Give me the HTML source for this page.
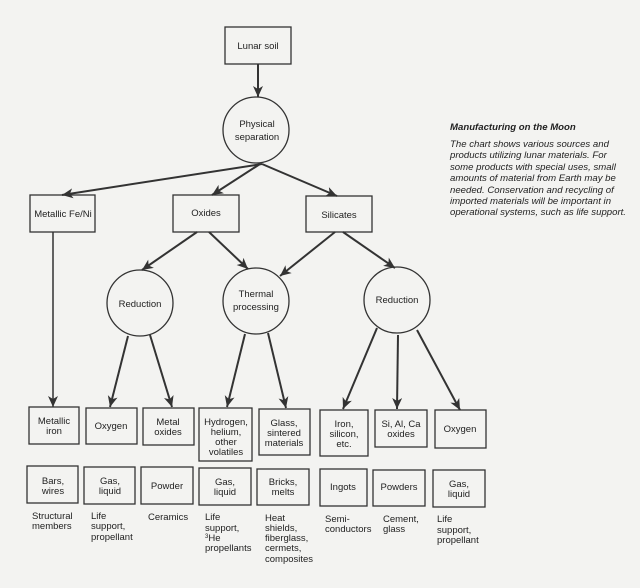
<!DOCTYPE html>
<html><head><meta charset="utf-8"><style>
html,body{margin:0;padding:0;background:#f3f3f1;}
svg{display:block}
text{font-family:"Liberation Sans",sans-serif;font-size:9.5px;fill:#222;}
.c{text-anchor:middle}
.i{font-style:italic;font-size:9.6px}
</style></head><body>
<svg width="640" height="588" viewBox="0 0 640 588" xmlns="http://www.w3.org/2000/svg">
<defs><marker id="a" markerWidth="8" markerHeight="8" refX="7" refY="4" orient="auto" markerUnits="userSpaceOnUse"><path d="M0,0 L8,4 L0,8 L2,4 z" fill="#333"/></marker>
<marker id="b" markerWidth="12" markerHeight="12" refX="11" refY="5" orient="auto" markerUnits="userSpaceOnUse"><path d="M0,0 L11,5 L0,10 L3,5 z" fill="#333"/></marker></defs>
<g fill="none" stroke="#333" stroke-width="1.3">
<rect x="225" y="27" width="66" height="37"/>
<circle cx="256" cy="130" r="33"/>
<rect x="30" y="195" width="65" height="37"/>
<rect x="173" y="195" width="66" height="37"/>
<rect x="306" y="196" width="66" height="36"/>
<circle cx="140" cy="303" r="33"/>
<circle cx="256" cy="301" r="33"/>
<circle cx="397" cy="300" r="33"/>
<rect x="29" y="407" width="50" height="37"/>
<rect x="86" y="408" width="51" height="36"/>
<rect x="143" y="408" width="51" height="37"/>
<rect x="199" y="408" width="53" height="53"/>
<rect x="259" y="409" width="51" height="46"/>
<rect x="320" y="410" width="48" height="46"/>
<rect x="375" y="410" width="52" height="37"/>
<rect x="435" y="410" width="51" height="38"/>
<rect x="27" y="466" width="51" height="37"/>
<rect x="84" y="467" width="51" height="37"/>
<rect x="141" y="467" width="52" height="37"/>
<rect x="199" y="468" width="52" height="37"/>
<rect x="257" y="469" width="52" height="36"/>
<rect x="320" y="469" width="47" height="37"/>
<rect x="373" y="470" width="52" height="36"/>
<rect x="433" y="470" width="52" height="37"/>
</g>
<g stroke="#333" stroke-width="2" fill="none">
<line x1="258" y1="64" x2="258" y2="97" marker-end="url(#b)"/>
<line x1="262" y1="164" x2="62" y2="195" marker-end="url(#b)"/>
<line x1="260" y1="164" x2="212" y2="195" marker-end="url(#b)"/>
<line x1="262" y1="164" x2="337" y2="196" marker-end="url(#b)"/>
<line x1="197" y1="232" x2="142" y2="270" marker-end="url(#b)"/>
<line x1="209" y1="232" x2="248" y2="269" marker-end="url(#b)"/>
<line x1="335" y1="232" x2="280" y2="276" marker-end="url(#b)"/>
<line x1="343" y1="232" x2="395" y2="268" marker-end="url(#b)"/>
<line x1="53" y1="232" x2="53" y2="407" stroke-width="1.5" marker-end="url(#b)"/>
<line x1="128" y1="336" x2="110" y2="407" marker-end="url(#b)"/>
<line x1="150" y1="335" x2="172" y2="407" marker-end="url(#b)"/>
<line x1="245" y1="334" x2="227" y2="407" marker-end="url(#b)"/>
<line x1="268" y1="333" x2="286" y2="408" marker-end="url(#b)"/>
<line x1="377" y1="328" x2="343" y2="409" marker-end="url(#b)"/>
<line x1="398" y1="335" x2="397" y2="409" marker-end="url(#b)"/>
<line x1="417" y1="330" x2="460" y2="410" marker-end="url(#b)"/>
</g>
<g class="c">
<text x="258" y="49" class="c">Lunar soil</text>
<text x="257" y="127" class="c">Physical</text><text x="257" y="140" class="c">separation</text>
<text x="63" y="217" class="c">Metallic Fe/Ni</text>
<text x="206" y="216" class="c">Oxides</text>
<text x="339" y="218" class="c">Silicates</text>
<text x="140" y="307" class="c">Reduction</text>
<text x="256" y="297" class="c">Thermal</text><text x="256" y="310" class="c">processing</text>
<text x="397" y="303" class="c">Reduction</text>
<text x="54" y="424" class="c">Metallic</text><text x="54" y="434" class="c">iron</text>
<text x="111" y="429" class="c">Oxygen</text>
<text x="168" y="425" class="c">Metal</text><text x="168" y="435" class="c">oxides</text>
<text x="226" y="425" class="c">Hydrogen,</text><text x="226" y="435" class="c">helium,</text><text x="226" y="445" class="c">other</text><text x="226" y="455" class="c">volatiles</text>
<text x="284" y="426" class="c">Glass,</text><text x="284" y="436" class="c">sintered</text><text x="284" y="446" class="c">materials</text>
<text x="344" y="427" class="c">Iron,</text><text x="344" y="437" class="c">silicon,</text><text x="344" y="447" class="c">etc.</text>
<text x="401" y="427" class="c">Si, Al, Ca</text><text x="401" y="437" class="c">oxides</text>
<text x="460" y="432" class="c">Oxygen</text>
<text x="53" y="484" class="c">Bars,</text><text x="53" y="494" class="c">wires</text>
<text x="110" y="484" class="c">Gas,</text><text x="110" y="494" class="c">liquid</text>
<text x="167" y="489" class="c">Powder</text>
<text x="225" y="485" class="c">Gas,</text><text x="225" y="495" class="c">liquid</text>
<text x="283" y="485" class="c">Bricks,</text><text x="283" y="495" class="c">melts</text>
<text x="343" y="490" class="c">Ingots</text>
<text x="399" y="490" class="c">Powders</text>
<text x="459" y="487" class="c">Gas,</text><text x="459" y="497" class="c">liquid</text>
</g>
<text x="32" y="519">Structural</text><text x="32" y="529">members</text>
<text x="91" y="519">Life</text><text x="91" y="529">support,</text><text x="91" y="540">propellant</text>
<text x="148" y="520">Ceramics</text>
<text x="205" y="520">Life</text><text x="205" y="531">support,</text><text x="205" y="541"><tspan font-size="6" dy="-3">3</tspan><tspan dy="3">He</tspan></text><text x="205" y="551">propellants</text>
<text x="265" y="521">Heat</text><text x="265" y="531">shields,</text><text x="265" y="541">fiberglass,</text><text x="265" y="551">cermets,</text><text x="265" y="562">composites</text>
<text x="325" y="522">Semi-</text><text x="325" y="532">conductors</text>
<text x="383" y="522">Cement,</text><text x="383" y="532">glass</text>
<text x="437" y="522">Life</text><text x="437" y="533">support,</text><text x="437" y="543">propellant</text>
<text x="450" y="130" class="i" font-weight="bold">Manufacturing on the Moon</text>
<text x="450" y="147" class="i">The chart shows various sources and</text>
<text x="450" y="158" class="i">products utilizing lunar materials.  For</text>
<text x="450" y="170" class="i">some products with special uses, small</text>
<text x="450" y="181" class="i">amounts of material from Earth may be</text>
<text x="450" y="193" class="i">needed.  Conservation and recycling of</text>
<text x="450" y="204" class="i">imported materials will be important in</text>
<text x="450" y="215" class="i">operational systems, such as life support.</text>
</svg>
</body></html>
